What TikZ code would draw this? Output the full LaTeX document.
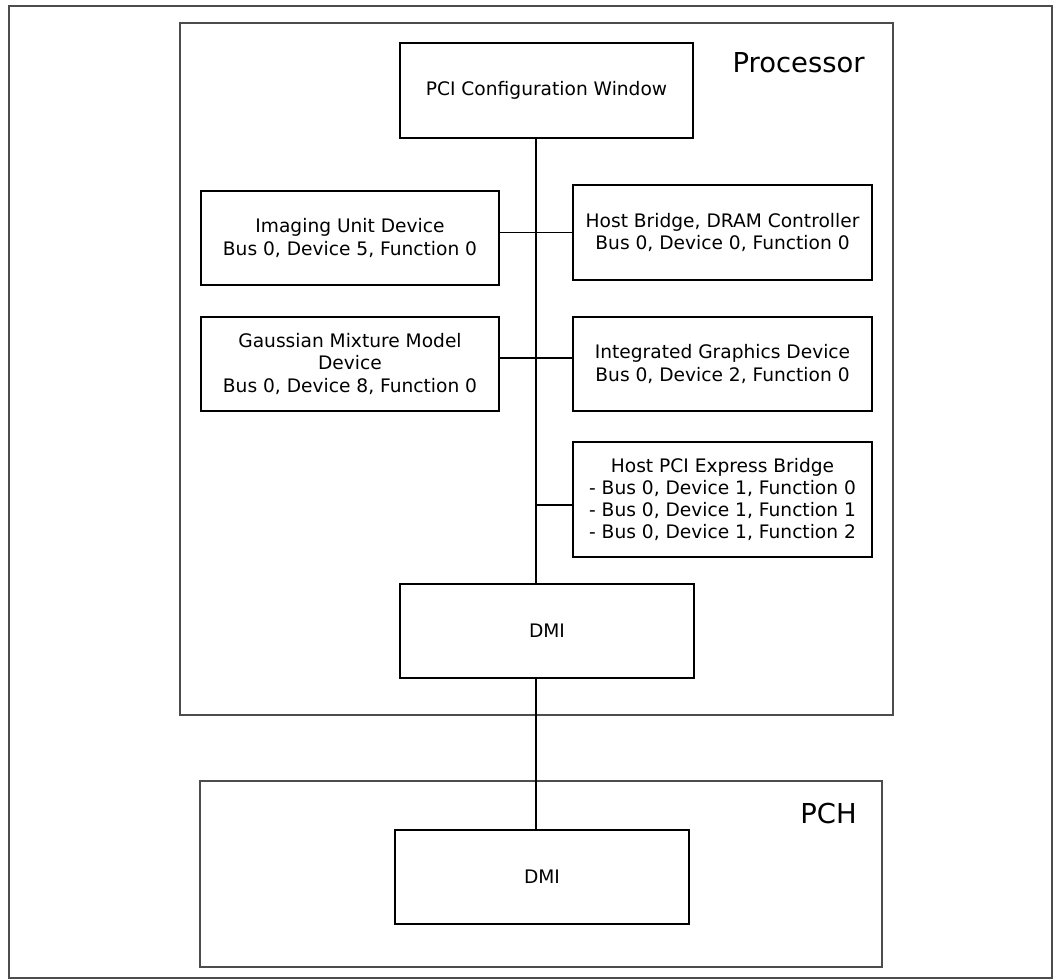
\documentclass[tikz,border=0pt]{standalone}
\usepackage{fontspec}
\setmainfont{DejaVu Sans}
\usetikzlibrary{calc}

\begin{document}
\begin{tikzpicture}[x=0.02cm, y=-0.02cm,
        unitbox/.style={draw=black, line width=0.85pt, align=center, inner sep=0pt,
            font=\fontsize{10.6}{12.6}\selectfont},
        groupbox/.style={draw=black!70, line width=0.8pt, inner sep=0pt},
        grouplabel/.style={font=\fontsize{15.6}{18}\selectfont, inner sep=0pt},
        busline/.style={line width=0.6pt}]
        \useasboundingbox (0,0) rectangle (1053,979);
        \draw[draw=black!70, line width=1.2pt] (9,6) rectangle (1052,978);

        % processor and PCH frames
        \node[groupbox, minimum width=14.26cm, minimum height=13.84cm] (proc) at (536.5,369) {};
        \node[grouplabel, anchor=base east] (proclabel) at (865,73) {Processor};
        \node[groupbox, minimum width=13.64cm, minimum height=3.72cm] (pch) at (541,874) {};
        \node[grouplabel, anchor=base east] (pchlabel) at (857,823) {PCH};

        % units inside the processor
        \node[unitbox, minimum width=5.86cm, minimum height=1.9cm] (pci) at (546.5,90.5) {PCI Configuration Window};
        \node[unitbox, minimum width=5.96cm, minimum height=1.88cm] (img) at (350,238) {Imaging Unit Device\\Bus 0, Device 5, Function 0};
        \node[unitbox, minimum width=5.98cm, minimum height=1.9cm] (hostbridge) at (722.5,232.5) {Host Bridge, DRAM Controller\\Bus 0, Device 0, Function 0};
        \node[unitbox, minimum width=5.96cm, minimum height=1.88cm] (gmm) at (350,364) {Gaussian Mixture Model\\Device\\Bus 0, Device 8, Function 0};
        \node[unitbox, minimum width=5.98cm, minimum height=1.88cm] (igd) at (722.5,364) {Integrated Graphics Device\\Bus 0, Device 2, Function 0};
        \node[unitbox, minimum width=5.98cm, minimum height=2.3cm] (hpb) at (722.5,499.5) {Host PCI Express Bridge\\- Bus 0, Device 1, Function 0\\- Bus 0, Device 1, Function 1\\- Bus 0, Device 1, Function 2};
        \node[unitbox, minimum width=5.88cm, minimum height=1.88cm] (dmiproc) at (547,631) {DMI};

        % unit inside the PCH
        \node[unitbox, minimum width=5.88cm, minimum height=1.88cm] (dmipch) at (542,877) {DMI};

        % bus and links
        \coordinate (bus) at (536,0);
        \coordinate (gmmjoin) at ([yshift=0.12cm]gmm.east);
        \coordinate (hpbjoin) at ([yshift=-0.11cm]hpb.west);
        \draw[busline] (bus |- pci.south) -- (bus |- dmiproc.north);
        \draw[busline] (img.east |- hostbridge.west) -- (hostbridge.west);
        \draw[busline] (gmmjoin) -- (igd.west |- gmmjoin);
        \draw[busline] (bus |- hpbjoin) -- (hpbjoin);
        \draw[busline] (bus |- dmiproc.south) -- (bus |- dmipch.north);
\end{tikzpicture}
\end{document}
